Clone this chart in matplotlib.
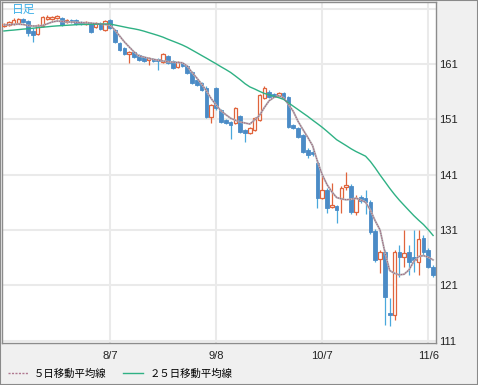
import matplotlib
matplotlib.use('Agg')
import matplotlib.pyplot as plt
from matplotlib.lines import Line2D
from matplotlib.patches import Rectangle
import numpy as np

# daily candles, oldest first
opens = [167.87, 168.05, 168.23, 168.41, 169.14, 168.78, 166.97, 166.42, 167.87, 169.14,
         169.14, 169.32, 169.32, 168.59, 168.96, 168.96, 168.59, 168.23, 168.23, 167.69,
         168.41, 167.15, 168.96, 167.15, 164.80, 163.89, 162.81, 163.17, 162.63, 162.27,
         161.72, 161.90, 161.90, 161.36, 162.45, 161.54, 160.46, 161.18, 160.64, 159.55,
         158.11, 157.56, 156.66, 151.42, 156.66, 152.68, 150.88, 150.51, 150.33, 151.60,
         149.07, 148.52, 149.07, 150.88, 154.85, 155.94, 155.58, 155.21, 155.76, 155.03,
         149.97, 149.43, 148.16, 145.45, 145.09, 143.10, 136.77, 138.22, 135.15, 135.33,
         136.77, 138.76, 138.94, 134.24, 136.95, 136.77, 136.05, 130.81, 125.76, 127.02,
         115.98, 115.62, 127.02, 126.12, 127.02, 126.12, 125.22, 129.55, 127.38, 124.30]
highs = [168.41, 168.78, 169.32, 169.32, 169.32, 168.96, 167.51, 168.23, 169.68, 169.86,
         169.68, 169.86, 169.50, 169.14, 169.14, 169.14, 168.78, 168.78, 168.41, 168.59,
         168.59, 168.96, 169.14, 167.33, 164.98, 164.07, 163.35, 163.35, 162.81, 162.45,
         162.27, 162.08, 162.08, 162.99, 162.63, 161.72, 161.54, 161.36, 160.82, 159.73,
         158.29, 157.74, 157.02, 153.77, 156.84, 152.86, 151.06, 150.69, 153.23, 151.78,
         149.25, 149.61, 151.42, 155.58, 157.02, 156.30, 155.76, 155.94, 155.94, 155.21,
         150.15, 149.61, 148.34, 145.81, 145.81, 143.64, 140.93, 138.58, 139.48, 135.51,
         138.94, 141.47, 139.30, 137.32, 137.32, 138.22, 136.41, 131.17, 127.38, 127.38,
         118.69, 127.38, 128.28, 130.99, 128.28, 130.99, 130.99, 130.09, 127.74, 124.66]
lows = [167.69, 167.87, 168.05, 168.23, 168.41, 166.06, 164.98, 166.24, 167.69, 168.96,
        168.96, 169.14, 167.87, 168.41, 168.41, 168.05, 168.05, 168.05, 166.60, 167.51,
        167.15, 166.97, 167.33, 164.80, 163.35, 162.63, 161.18, 162.08, 161.54, 161.36,
        160.82, 161.36, 159.92, 161.18, 161.00, 160.10, 160.28, 160.46, 159.19, 157.38,
        157.02, 156.12, 151.24, 150.33, 152.68, 150.33, 150.15, 147.44, 150.15, 148.52,
        146.90, 148.34, 148.89, 150.70, 154.67, 154.85, 155.03, 155.03, 154.67, 149.43,
        149.25, 147.62, 144.91, 144.00, 144.36, 134.96, 136.59, 134.06, 134.96, 132.25,
        134.06, 138.22, 133.88, 133.70, 135.87, 133.88, 130.27, 125.22, 123.21, 113.81,
        113.63, 114.72, 122.49, 124.30, 122.85, 123.40, 122.85, 126.48, 124.12, 122.49]
closes = [168.23, 168.59, 168.96, 169.14, 168.59, 166.60, 166.24, 168.05, 169.50, 169.50,
          169.50, 169.68, 168.05, 168.96, 168.59, 168.23, 168.23, 168.59, 166.79, 168.41,
          167.33, 168.78, 167.51, 164.98, 163.53, 162.81, 163.17, 162.27, 161.72, 161.54,
          162.08, 161.54, 161.54, 162.81, 161.18, 160.28, 161.36, 160.64, 159.37, 157.56,
          157.20, 156.30, 151.42, 153.59, 153.04, 150.51, 150.33, 149.97, 153.04, 148.71,
          148.52, 149.43, 151.24, 155.40, 156.66, 155.03, 155.21, 155.76, 154.85, 149.61,
          149.43, 147.80, 145.09, 144.55, 144.73, 136.77, 138.22, 134.96, 135.51, 134.60,
          138.58, 139.12, 134.24, 136.77, 136.23, 136.05, 130.63, 125.58, 127.02, 118.87,
          115.62, 127.02, 126.12, 126.84, 125.22, 125.58, 129.37, 127.02, 124.30, 122.85]

# moving averages
ma5 = [168.05, 168.11, 168.16, 168.21, 168.14, 167.96, 167.87, 167.87, 167.96, 168.27,
       168.59, 168.77, 168.70, 168.63, 168.58, 168.54, 168.49, 168.45, 168.41, 168.30,
       168.23, 168.14, 168.05, 167.15, 166.06, 164.98, 164.07, 163.17, 162.45, 162.27,
       162.03, 161.85, 161.69, 161.54, 161.42, 161.33, 161.27, 161.22, 160.64, 159.48,
       158.47, 157.38, 156.12, 154.73, 153.59, 152.56, 151.85, 151.20, 150.84, 150.51,
       150.33, 150.15, 150.89, 151.71, 153.12, 154.36, 154.96, 155.29, 154.89, 153.70,
       152.45, 150.62, 149.16, 147.75, 146.26, 143.46, 141.00, 139.21, 137.88, 136.86,
       136.61, 136.45, 136.56, 136.74, 136.43, 136.01, 134.57, 132.63, 130.99, 126.97,
       123.66, 123.16, 122.87, 123.00, 123.78, 125.30, 126.20, 126.36, 126.07, 125.58]
ma25 = [166.97, 167.06, 167.13, 167.22, 167.31, 167.38, 167.47, 167.56, 167.65, 167.73,
        167.82, 167.89, 167.94, 168.00, 168.05, 168.11, 168.14, 168.16, 168.18, 168.20,
        168.21, 168.23, 168.23, 168.05, 167.87, 167.69, 167.51, 167.36, 167.18, 166.95,
        166.68, 166.42, 166.15, 165.85, 165.48, 165.14, 164.80, 164.44, 164.02, 163.53,
        163.04, 162.54, 162.05, 161.54, 161.04, 160.51, 160.01, 159.48, 158.83, 158.16,
        157.44, 156.86, 156.48, 156.06, 155.68, 155.43, 155.16, 154.91, 154.60, 153.99,
        153.37, 152.76, 152.14, 151.53, 150.86, 150.22, 149.56, 148.83, 148.07, 147.31,
        146.77, 146.23, 145.67, 145.18, 144.76, 144.33, 143.37, 142.20, 140.93, 139.74,
        138.53, 137.41, 136.38, 135.44, 134.51, 133.59, 132.76, 131.98, 131.04, 130.00]

date_ticks = [22, 44, 66, 88]
date_labels = ['8/7', '9/8', '10/7', '11/6']
price_ticks = [111, 121, 131, 141, 151, 161, 171]
price_labels = ['111', '121', '131', '141', '151', '161', '']

UP_EDGE = '#e0643c'
DOWN_FILL = '#4b8bc6'
DOWN_WICK = '#4aa8dc'
GREEN = '#2fb184'

o = np.array(opens)
h = np.array(highs)
l = np.array(lows)
c = np.array(closes)
x = np.arange(len(o))
up = c >= o

fig = plt.figure(figsize=(4.78, 3.85), dpi=100, facecolor='#f0f0f0')
ax = fig.add_axes([2 / 478, 42 / 385, 434 / 478, 341 / 385])
ax.set_facecolor('white')

# grid
for t in price_ticks:
    ax.axhline(t, color='#eaeaea', lw=1.5, zorder=0)
for t in date_ticks:
    ax.axvline(t, color='#eaeaea', lw=1.5, zorder=0)

# wicks
ax.vlines(x[up], l[up], h[up], color=UP_EDGE, lw=0.9, zorder=2)
ax.vlines(x[~up], l[~up], h[~up], color=DOWN_WICK, lw=0.9, zorder=2)

# bodies
w = 0.75
ax.bar(x[up], (c - o)[up], bottom=o[up], width=w, facecolor='white',
       edgecolor=UP_EDGE, lw=0.9, zorder=3)
ax.bar(x[~up], (o - c)[~up], bottom=c[~up], width=w, facecolor=DOWN_FILL,
       edgecolor=DOWN_FILL, lw=0.6, zorder=3)

# moving averages
ax.plot(x, ma5, color='#b9b9b9', lw=1.4, zorder=4)
ax.plot(x, ma5, color='#a0607e', lw=0.7, ls=(0, (1.5, 1)), zorder=5)
ax.plot(x, ma25, color=GREEN, lw=1.0, zorder=4)

ax.set_xlim(-0.4, 89.6)
ax.set_ylim(110.56, 172.21)

ax.yaxis.tick_right()
ax.set_yticks(price_ticks)
ax.set_yticklabels(price_labels, fontsize=8, family='Liberation Sans', color='#222222')
ax.set_xticks(date_ticks)
ax.set_xticklabels(date_labels, fontsize=8, family='Liberation Sans', color='#222222')
ax.tick_params(axis='both', length=0)
ax.tick_params(axis='y', pad=2)
ax.tick_params(axis='x', pad=6)

for s in ax.spines.values():
    s.set_color('#8c8c8c')
    s.set_linewidth(1.0)

ax.text(10 / 434, 1 - 7 / 341, '日足', transform=ax.transAxes, fontsize=8.5,
        color='#3fb0e8', family='Noto Sans CJK JP', va='center', ha='left')

handles = [Line2D([], [], color='#b07890', lw=1.0, ls=(0, (1.5, 1))),
           Line2D([], [], color=GREEN, lw=1.0)]
labels = ['５日移動平均線', '２５日移動平均線']
fig.legend(handles, labels, loc='center left', bbox_to_anchor=(8 / 478, 1 - 374 / 385),
           ncol=2, frameon=False, handlelength=1.9, handletextpad=0.6,
           columnspacing=1.6, borderaxespad=0, borderpad=0,
           prop={'family': 'Noto Sans CJK JP', 'size': 7.5})

fig.add_artist(Rectangle((0, 0), 1, 1, transform=fig.transFigure, fill=False,
                         edgecolor='#8a8a8a', lw=1.5))

fig.savefig('out.png', dpi=100, facecolor=fig.get_facecolor())
